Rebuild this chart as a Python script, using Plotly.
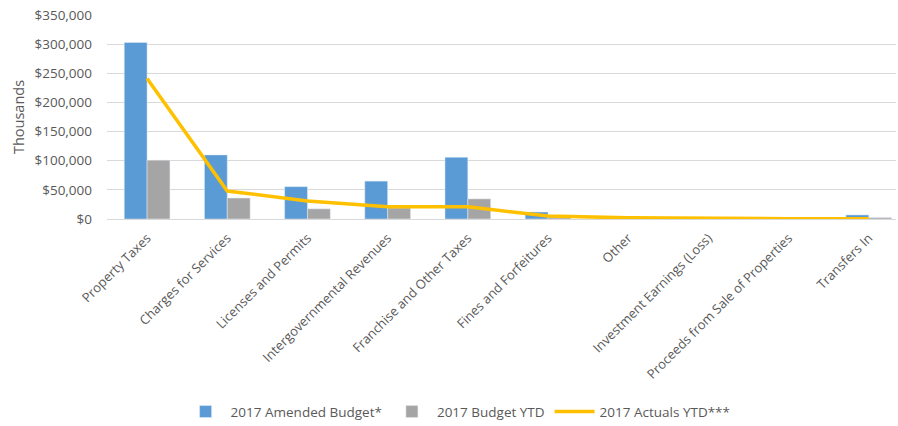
import plotly.graph_objects as go

categories = ["Property Taxes", "Charges for Services", "Licenses and Permits",
              "Intergovernmental Revenues", "Franchise and Other Taxes",
              "Fines and Forfeitures", "Other", "Investment Earnings (Loss)",
              "Proceeds from Sale of Properties", "Transfers In"]
amended_budget = [303000, 110000, 55500, 65000, 106000, 12000, 1000, 800, 300, 7000]
budget_ytd = [101000, 36000, 17500, 19000, 34500, 3500, 500, 400, 100, 2500]
actuals_ytd = [241000, 48000, 31000, 21000, 21000, 5000, 2000, 1000, 500, 500]
tick_vals = [0, 50000, 100000, 150000, 200000, 250000, 300000, 350000]
tick_text = ["$0", "$50,000", "$100,000", "$150,000", "$200,000", "$250,000", "$300,000", "$350,000"]

fig = go.Figure()
fig.add_trace(go.Bar(x=categories, y=amended_budget, name="2017 Amended Budget*",
                     marker=dict(color="#5B9BD5")))
fig.add_trace(go.Bar(x=categories, y=budget_ytd, name="2017 Budget YTD",
                     marker=dict(color="#A5A5A5")))
fig.add_trace(go.Scatter(x=categories, y=actuals_ytd, name="2017 Actuals YTD***",
                         mode="lines", line=dict(color="#FFC000", width=3.5)))

font = dict(family="Open Sans, sans-serif", size=13, color="#595959")
fig.update_layout(
    width=898, height=426,
    margin=dict(l=107, r=2, t=15, b=207, autoexpand=False),
    paper_bgcolor="white", plot_bgcolor="white",
    barmode="group", bargap=0.43, bargroupgap=0,
    font=font,
    showlegend=True,
    legend=dict(orientation="h", x=0.445, xanchor="center",
                y=-0.945, yanchor="middle",
                font=dict(family="Open Sans, sans-serif", size=13.5, color="#595959"),
                itemwidth=40, traceorder="normal"),
    xaxis=dict(range=[-0.5, 9.34], tickangle=-45, showgrid=False, showline=False,
               automargin=False,
               ticks="", ticklabelstandoff=8, tickfont=dict(size=13, color="#595959")),
    yaxis=dict(range=[0, 350000], tickvals=tick_vals, ticktext=tick_text,
               automargin=False,
               showgrid=True, gridcolor="#D9D9D9", gridwidth=1,
               zeroline=True, zerolinecolor="#D9D9D9", zerolinewidth=1,
               ticklabelstandoff=14,
               title=dict(text="Thousands", font=dict(size=14.5, color="#595959"), standoff=6),
               tickfont=dict(size=13.5, color="#595959")),
)
fig.write_html("out.html")
